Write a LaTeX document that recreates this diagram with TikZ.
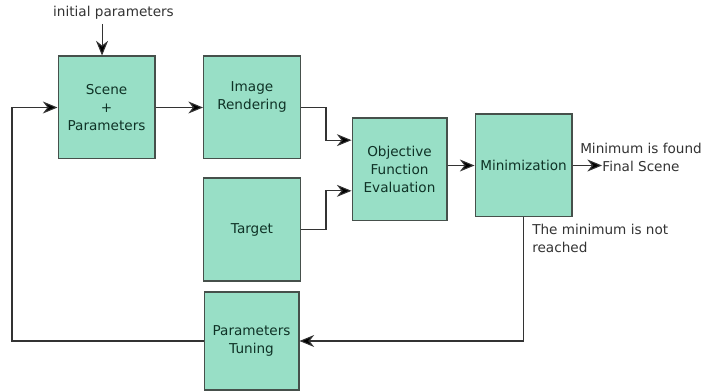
\documentclass[tikz,border=0pt]{standalone}
\usepackage{fontspec}
\setmainfont{DejaVu Sans}
\usetikzlibrary{arrows.meta,calc}
\definecolor{boxgreen}{RGB}{152,223,198}
\definecolor{boxline}{RGB}{70,80,75}
\definecolor{boxtext}{RGB}{15,50,38}
\tikzset{
  stage/.style={draw=boxline, line width=1pt, fill=boxgreen, text=boxtext, align=center,
    inner sep=1pt, minimum width=72.5pt, minimum height=77pt},
  flow/.style={line width=0.8pt, draw=black!80, -{Stealth[length=11pt,width=9pt,inset=3.5pt,fill=black]}},
  note/.style={text=black!80, inner sep=0pt}
}

\begin{document}
\begin{tikzpicture}[x=0.75pt, y=-0.75pt, font=\fontsize{10.2}{13.5}\selectfont]
	%%%%% START %%%%%
	\useasboundingbox (0, 0) rectangle (705, 391);
	
	\node[stage] (scene) at (106.5, 107.5) {Scene\\+\\Parameters};
	\node[stage] (render) at (252, 107.5) {Image\\Rendering\\\strut};
	\node[stage] (target) at (252, 229.5) {Target};
	\node[stage, minimum width=71pt] (objective) at (399.5, 169.5) {Objective\\Function\\Evaluation};
	\node[stage] (minim) at (523.5, 165.5) {Minimization};
	\node[stage, minimum width=71pt, minimum height=73.5pt] (tuning) at (251.5, 341) {Parameters\\Tuning};
	
	\node[note] (init) at (113.5, 13) {initial parameters};
	\node[note, align=center] (found) at (641, 157) {Minimum is found\\Final Scene};
	\node[note, align=left, anchor=north west] (notreached) at (532, 224) {The minimum is not\\reached};
	
	\coordinate (back) at (12, 0);
	\coordinate (join) at (326, 0);
	\coordinate (final) at (602, 165.5);
	
	\draw[flow] ([xshift=-8.6pt, yshift=-3pt]init.south) -- ([xshift=-8.6pt]init.south |- scene.north);
	\draw[flow] (scene.east) -- (render.west);
	\draw[flow] (render.east) -- (render.east -| join) |- ([yshift=22pt]objective.west);
	\draw[flow] (target.east) -- (target.east -| join) |- ([yshift=-16pt]objective.west);
	\draw[flow] (objective.east |- minim.west) -- (minim.west);
	\draw[flow] (minim.east) -- (final);
	\draw[flow] (minim.south) |- (tuning.east);
	\draw[flow] (tuning.west) -- (tuning.west -| back) |- (scene.west);
	
	%%%%% END %%%%%
\end{tikzpicture}
\end{document}
